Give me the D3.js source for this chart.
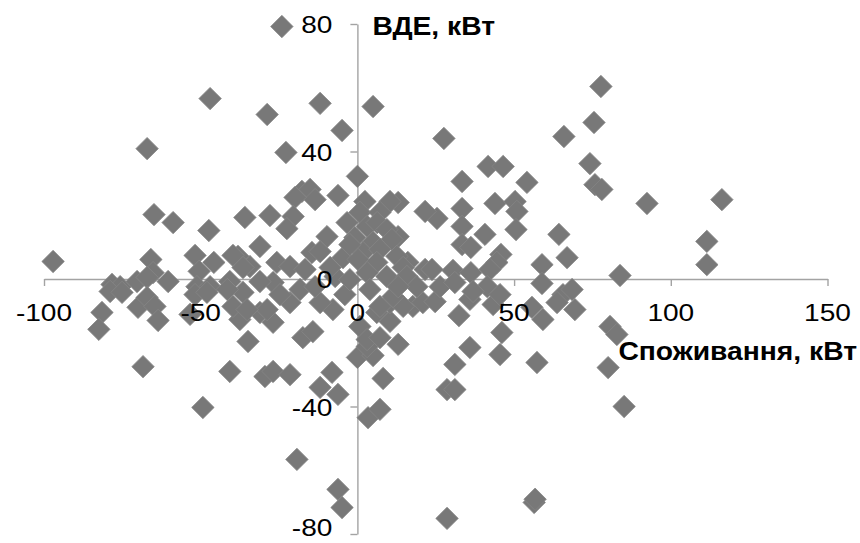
<!DOCTYPE html>
<html>
<head>
<meta charset="utf-8">
<script src="https://cdn.jsdelivr.net/npm/d3@7"></script>
<style>
  html, body { margin: 0; padding: 0; background: #fff; }
  svg { display: block; }
</style>
</head>
<body>
<svg id="chart" width="860" height="543"></svg>
<script>
// Consumption (kW) – x values
const consumption = [
  -24.1,-47.0,-28.8,-11.9,5.0,-4.9,-67.1,-22.8,0.0,77.7,
  75.5,65.9,27.6,74.2,75.8,78.0,41.7,46.5,33.4,54.1,
  92.4,116.3,111.5,111.5,33.4,43.9,50.3,50.9,25.4,21.6,
  33.4,40.7,50.6,64.3,66.9,58.9,83.8,33.4,36.2,45.8,
  44.5,30.5,36.2,16.1,21.6,42.3,58.9,13.0,13.0,23.8,
  -17.7,-15.1,-13.5,-19.9,-6.2,2.4,10.4,-35.9,-27.9,-20.5,
  -22.5,-3.3,0.8,7.2,3.1,6.3,9.4,11.0,-9.7,-0.8,
  5.0,-31.1,-14.5,-11.9,1.8,7.2,-4.6,0.2,6.2,12.6,
  -34.3,-25.7,-21.5,-16.7,-7.1,3.1,9.4,14.6,-38.1,-26.9,
  -31.1,-64.9,-58.8,-47.4,-97.1,-65.9,-51.8,-45.8,-39.7,-50.5,
  -65.2,-60.4,-36.5,-40.7,-78.3,-75.7,-70.3,-67.1,-51.2,-47.0,
  -78.9,-75.1,-81.5,-82.5,-70.0,-67.1,-64.6,-63.6,-68.4,-53.4,
  -51.8,-48.0,-40.7,-49.3,-37.5,-34.9,-39.7,-29.5,-26.9,-21.5,
  -17.4,-14.2,-19.3,-8.1,-11.9,-6.2,-6.2,-4.9,0.0,5.0,
  8.2,13.0,3.4,7.2,3.1,10.4,17.7,20.9,-31.1,-26.9,
  -21.5,-36.5,-7.8,-11.9,0.8,6.2,10.4,15.8,19.0,-28.8,
  -35.2,3.1,7.2,7.2,14.6,11.4,65.6,59.2,55.7,46.1,
  45.5,57.3,35.9,31.1,28.6,31.1,32.4,35.9,24.8,26.4,
  41.4,43.3,45.5,68.5,69.4,63.7,80.6,82.8,80.0,85.1,
  56.4,56.7,28.6,31.1,36.9,-41.5,-24.7,-18.3,-13.5,-4.0,
  -2.4,4.0,13.0,-8.7,-2.4
];
// Renewable generation (kW) – y values
const generation = [
  79.2,56.6,51.6,55.1,54.1,46.6,40.9,39.7,32.2,60.4,
  49.1,44.7,44.1,36.2,29.6,28.1,35.3,35.3,30.6,30.3,
  23.7,24.9,11.8,4.5,22.1,23.7,24.3,21.2,19.0,21.2,
  16.5,14.0,15.5,14.0,6.7,4.5,1.1,10.8,9.9,7.7,
  5.2,2.7,2.0,5.2,3.0,3.0,-1.4,24.0,13.3,3.0,
  27.5,28.1,24.9,25.6,26.2,24.3,24.3,19.3,19.9,19.6,
  15.8,17.7,20.9,20.9,16.5,17.7,15.5,12.4,13.3,13.0,
  11.5,10.2,8.3,8.6,8.3,9.3,6.7,6.1,5.2,7.1,
  3.9,5.2,3.9,3.0,0.8,2.0,0.8,3.6,7.1,-1.1,
  -0.8,20.2,17.7,15.2,5.5,6.1,7.4,5.2,7.4,2.4,
  2.0,-0.8,3.6,-0.8,-1.7,-2.4,-0.8,0.5,-2.4,-2.4,
  -3.9,-4.2,-10.5,-15.8,-8.9,-5.8,-8.6,-13.0,-27.5,-11.1,
  -4.9,-4.2,-29.0,-40.3,-12.7,-19.6,-8.6,-30.6,-29.0,-30.0,
  -18.4,-16.5,-56.6,-29.3,-34.0,-36.2,-66.0,-71.7,-24.6,-24.0,
  -31.2,-20.5,-43.5,-40.9,-21.2,-13.3,-8.6,-7.4,-10.5,-13.6,
  -7.4,-4.2,-9.6,-7.4,-14.9,-10.5,-7.4,0.8,-2.4,-9.6,
  -9.6,-19.0,-18.4,-8.6,-8.6,-5.5,-4.9,-12.7,-8.9,-16.8,
  -23.7,-26.2,-21.5,-26.8,-34.7,-34.7,-11.5,-6.4,-7.1,-2.4,
  -2.4,-8.0,-4.9,-3.3,-9.6,-7.4,-14.9,-17.4,-27.8,-40.0,
  -70.1,-69.1,-75.1,-1.1,-3.9,-3.3,-4.9,-3.3,-2.4,-4.9,
  -0.2,-3.3,-2.4,3.6,10.8
];
const xTicks = [-100, -50, 0, 50, 100, 150];
const yTicks = [80, 40, 0, -40, -80];
const xTitle = "Споживання, кВт";
const yTitle = "ВДЕ, кВт";

const points = consumption.map((v, i) => ({x: v, y: generation[i]}));

const svg = d3.select("#chart");
const x = d3.scaleLinear().domain([-100, 150]).range([44, 827.5]);
const y = d3.scaleLinear().domain([-80, 80]).range([534, 24]);

const axisColor = "#a3a3a3";
const numFont = "'Liberation Sans', Arial, sans-serif";
const numStretch = 1.17;

// X axis (crosses at y = 0)
const xAxisG = svg.append("g").attr("transform", `translate(0,${y(0)})`);
xAxisG.call(d3.axisBottom(x).tickValues(xTicks).tickSize(7).tickSizeOuter(0).tickFormat(""));
xAxisG.select(".domain").attr("stroke", axisColor).attr("stroke-width", 1.4);
xAxisG.selectAll(".tick line").attr("stroke", axisColor).attr("stroke-width", 1.4);

// Y axis (crosses at x = 0)
const yAxisG = svg.append("g").attr("transform", `translate(${x(0)},0)`);
yAxisG.call(d3.axisLeft(y).tickValues(yTicks).tickSize(7).tickSizeOuter(0).tickFormat(""));
yAxisG.select(".domain").attr("stroke", axisColor).attr("stroke-width", 1.4);
yAxisG.selectAll(".tick line").attr("stroke", axisColor).attr("stroke-width", 1.4);

// Markers
const r = 11.2;
const diamond = `M0,${-r}L${r},0L0,${r}L${-r},0Z`;
svg.append("g").selectAll("path")
  .data(points)
  .join("path")
  .attr("d", diamond)
  .attr("transform", d => `translate(${x(d.x)},${y(d.y)})`)
  .attr("fill", "#787878")
  .attr("stroke", "#858585")
  .attr("stroke-width", 0.8);

// Tick labels (on top)
const labels = svg.append("g").attr("fill", "#000");
labels.selectAll("g.xl")
  .data(xTicks)
  .join("g")
  .attr("class", "xl")
  .attr("transform", d => `translate(${x(d)},${y(0) + 42}) scale(${numStretch},1)`)
  .append("text")
  .attr("text-anchor", "middle")
  .attr("font-family", numFont)
  .attr("font-size", 24)
  .text(d => d);

labels.selectAll("g.yl")
  .data(yTicks)
  .join("g")
  .attr("class", "yl")
  .attr("transform", d => `translate(${x(0) - 25},${Math.min(y(d) + 9, 536)}) scale(${numStretch},1)`)
  .append("text")
  .attr("text-anchor", "end")
  .attr("font-family", numFont)
  .attr("font-size", 24)
  .text(d => d);

// Axis titles
svg.append("g")
  .attr("transform", `translate(${x(0) + 15},35) scale(1.13,1)`)
  .append("text")
  .attr("font-family", numFont)
  .attr("font-weight", "bold")
  .attr("font-size", 25)
  .text(yTitle);

svg.append("g")
  .attr("transform", `translate(857,360) scale(1.13,1)`)
  .append("text")
  .attr("text-anchor", "end")
  .attr("font-family", numFont)
  .attr("font-weight", "bold")
  .attr("font-size", 25)
  .text(xTitle);
</script>
</body>
</html>
